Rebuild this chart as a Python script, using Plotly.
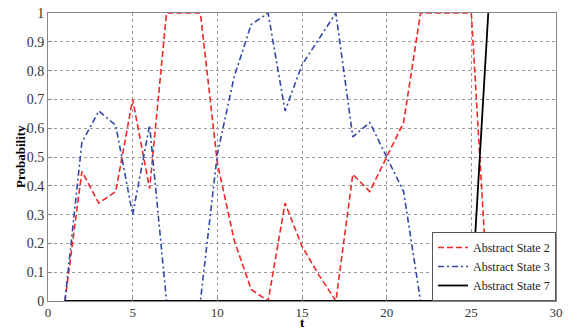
import plotly.graph_objects as go

t = list(range(1, 27))
state2 = [0, 0.45, 0.34, 0.38, 0.70, 0.39, 1.0, 1.0, 1.0, 0.48, 0.21, 0.04, 0.0,
          0.34, 0.19, 0.09, 0.0, 0.44, 0.38, 0.50, 0.62, 1.0, 1.0, 1.0, 1.0, 0.0]
state3 = [0, 0.55, 0.66, 0.61, 0.30, 0.61, 0.0, 0.0, 0.0, 0.51, 0.78, 0.96, 1.0,
          0.66, 0.82, 0.91, 1.0, 0.57, 0.62, 0.50, 0.38, 0.0, 0.0, 0.0, 0.0, 0.0]
state7 = [0] * 25 + [1.0]

x_ticks = [0, 5, 10, 15, 20, 25, 30]
y_ticks = [0, 0.1, 0.2, 0.3, 0.4, 0.5, 0.6, 0.7, 0.8, 0.9, 1]
y_labels = ["0", "0.1", "0.2", "0.3", "0.4", "0.5", "0.6", "0.7", "0.8", "0.9", "1"]

font = "Liberation Serif, Times New Roman, serif"

fig = go.Figure()
fig.add_trace(go.Scatter(x=t, y=state2, mode="lines", name="Abstract State 2",
                         line=dict(color="#f02828", width=1.6, dash="6px,3px")))
fig.add_trace(go.Scatter(x=t, y=state3, mode="lines", name="Abstract State 3",
                         line=dict(color="#3048a8", width=1.6, dash="6px,3px,2px,3px")))
fig.add_trace(go.Scatter(x=t, y=state7, mode="lines", name="Abstract State 7",
                         line=dict(color="#000000", width=1.8)))

fig.update_layout(
    width=569, height=329,
    margin=dict(l=48, r=12.5, t=13.3, b=27.7),
    paper_bgcolor="white", plot_bgcolor="white",
    font=dict(family=font, size=14, color="#333333"),
    showlegend=True,
    legend=dict(x=1, y=0, xanchor="right", yanchor="bottom",
                bgcolor="white", bordercolor="#555555", borderwidth=1,
                font=dict(family=font, size=12, color="#222222"),
                tracegroupgap=0, itemwidth=30),
    annotations=[
        dict(text="<b>t</b>", xref="paper", yref="paper", x=0.5, y=0,
             xanchor="center", yanchor="middle", yshift=-21, showarrow=False,
             borderpad=0, font=dict(family=font, size=13, color="#000")),
        dict(text="<b>Probability</b>", xref="paper", yref="paper", x=0, y=0.5,
             xanchor="center", yanchor="middle", xshift=-28, textangle=-90,
             showarrow=False, font=dict(family=font, size=13, color="#000")),
    ],
)
fig.update_xaxes(range=[0, 30], tickvals=x_ticks, ticktext=[str(v) for v in x_ticks],
                 showgrid=True, gridcolor="#9a9a9a", griddash="dot", gridwidth=1,
                 showline=True, linecolor="#888888", mirror=True, zeroline=False,
                 ticks="inside", ticklen=4, tickcolor="#888888", automargin=False,
                 tickfont=dict(size=13), ticklabelstandoff=-1)
fig.update_yaxes(range=[0, 1], tickvals=y_ticks, ticktext=y_labels,
                 showgrid=True, gridcolor="#9a9a9a", griddash="dot", gridwidth=1,
                 showline=True, linecolor="#888888", mirror=True, zeroline=False,
                 ticks="inside", ticklen=4, tickcolor="#888888", automargin=False,
                 tickfont=dict(size=14))

fig.write_html("out.html", post_script="document.body.style.margin='0';",
               config={"displayModeBar": False})
